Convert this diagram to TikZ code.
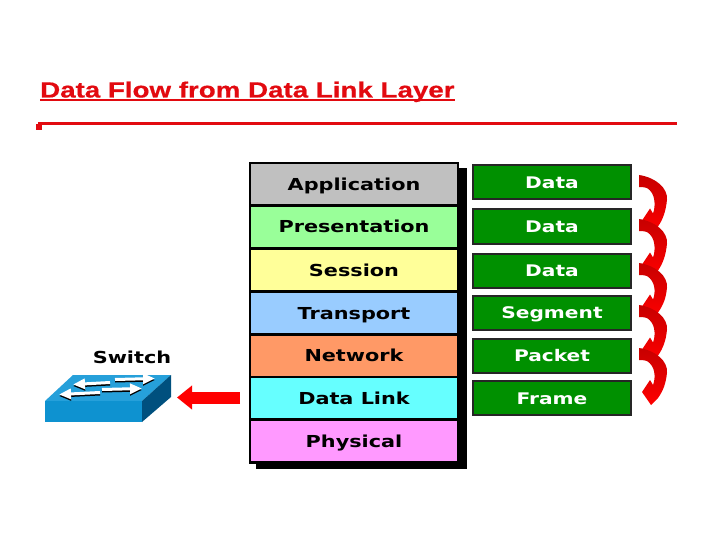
\documentclass[tikz,border=0pt]{standalone}
\usepackage{fontspec}
\setmainfont{Liberation Sans}[BoldFeatures={FakeStretch=1.26,FakeBold=0.6}]
\newfontfamily\layerfont{DejaVu Sans}[FakeStretch=1.26]
\usetikzlibrary{arrows.meta,calc}

\definecolor{title-red}{RGB}{226,10,16}
\definecolor{box-green}{RGB}{0,144,0}
\definecolor{switch-top}{RGB}{38,160,218}
\definecolor{switch-front}{RGB}{14,146,208}
\definecolor{switch-side}{RGB}{0,80,126}
\definecolor{layer-gray}{RGB}{192,192,192}
\definecolor{layer-green}{RGB}{153,255,153}
\definecolor{layer-yellow}{RGB}{255,255,153}
\definecolor{layer-blue}{RGB}{153,204,255}
\definecolor{layer-orange}{RGB}{255,153,102}
\definecolor{layer-cyan}{RGB}{102,255,255}
\definecolor{layer-pink}{RGB}{255,153,255}

\tikzstyle{layer}=[draw=black, line width=2.5pt, minimum width=208pt, minimum height=42.5pt,
                   inner sep=0pt, text height=13pt, text depth=1pt,
                   font=\layerfont\bfseries\fontsize{16.5}{18}\selectfont]
\tikzstyle{unit}=[draw=black!85, line width=2pt, fill=box-green, text=white, minimum width=158pt,
                  minimum height=34pt, inner sep=0pt, text height=13pt, text depth=1pt,
                  font=\layerfont\bfseries\fontsize{16}{18}\selectfont]
\tikzstyle{switch-arrow}=[-{Triangle[length=12pt,width=10pt]}, line width=3pt]

\begin{document}
\begin{tikzpicture}[x=1pt, y=-1pt]
    \useasboundingbox (0,0) rectangle (720,540);
    % First the title and its rule
    \node[anchor=base west, inner sep=0pt, text=title-red, font=\bfseries\fontsize{22}{26}\selectfont]
      (title) at (40,97.5) {Data Flow from Data Link Layer};
    \fill[title-red] ($(title.base west)+(0,1.5)$) rectangle ($(title.base east)+(0,4)$);
    \fill[title-red] (38,122.5) rectangle (677,125.5);
    \fill[title-red] (36,124) rectangle (42,130);
    % Then the layers with their shadow
    \fill[black] (256,168) rectangle (467,469);
    \foreach \pos/\name/\col/\txt in {{(354,184.5)/application/layer-gray/Application},
        {(354,227)/presentation/layer-green/Presentation}, {(354,270)/session/layer-yellow/Session},
        {(354,313)/transport/layer-blue/Transport}, {(354,355.5)/network/layer-orange/Network},
        {(354,398)/data-link/layer-cyan/Data Link}, {(354,441)/physical/layer-pink/Physical}}
      \node[layer, fill=\col] (\name) at \pos {\txt};
    % The data units
    \foreach \pos/\name/\txt in {{(552,182.5)/data-a/Data}, {(552,226.5)/data-b/Data},
        {(552,270.5)/data-c/Data}, {(552,312.5)/segment/Segment},
        {(552,355.5)/packet/Packet}, {(552,398)/frame/Frame}}
      \node[unit] (\name) at \pos {\txt};
    % Curved ribbons between the units
    \foreach \source/\dest in {data-a/data-b, data-b/data-c, data-c/segment,
                               segment/packet, packet/frame}
      \shade[top color=red!78!black, middle color=red!95!black, bottom color=red]
        ($(\source.east)+(7,-7.5)$)
        .. controls ($(\source.east)+(24,-5)$) and ($(\source.east)+(36,6)$) .. ($(\source.east)+(35,17)$)
        .. controls ($(\source.east)+(34,28)$) and ($(\dest.east)+(31,-7)$) .. ($(\dest.east)+(26,0)$)
        -- ($(\dest.east)+(19,7)$) -- ($(\dest.east)+(10,-6)$) -- ($(\dest.east)+(18,-18)$)
        -- ($(\dest.east)+(21,-13)$)
        .. controls ($(\dest.east)+(23,-18)$) and ($(\source.east)+(24,14)$) .. ($(\source.east)+(18,8)$)
        .. controls ($(\source.east)+(16,5)$) and ($(\source.east)+(12,4.5)$) .. ($(\source.east)+(7,4.5)$)
        -- cycle;
    % The switch
    \node[inner sep=0pt, font=\layerfont\bfseries\fontsize{16.5}{18}\selectfont] (switch-label) at (132,357) {Switch};
    \fill[switch-top] (45,401) -- (142,401) -- (171,375) -- (73,375) -- cycle;
    \fill[switch-front] (45,401) rectangle (142,422);
    \fill[switch-side] (142,401) -- (171,375) -- (171,397) -- (142,422) -- cycle;
    \foreach \tail/\tip in {{(110,383)/(73,385)}, {(115,380)/(155,379)},
                            {(100,393)/(59,395)}, {(102,390)/(142,389)}}{
      \draw[switch-arrow, black, yshift=-1pt] \tail -- \tip;
      \draw[switch-arrow, white, yshift=0.5pt] \tail -- \tip;
    }
    % Arrow from the data link layer to the switch
    \coordinate (link-out) at (240,397.5);
    \coordinate (switch-in) at (177,397.5);
    \draw[-{Triangle[length=15pt,width=23pt]}, red, line width=12pt] (link-out) -- (switch-in);
\end{tikzpicture}
\end{document}
